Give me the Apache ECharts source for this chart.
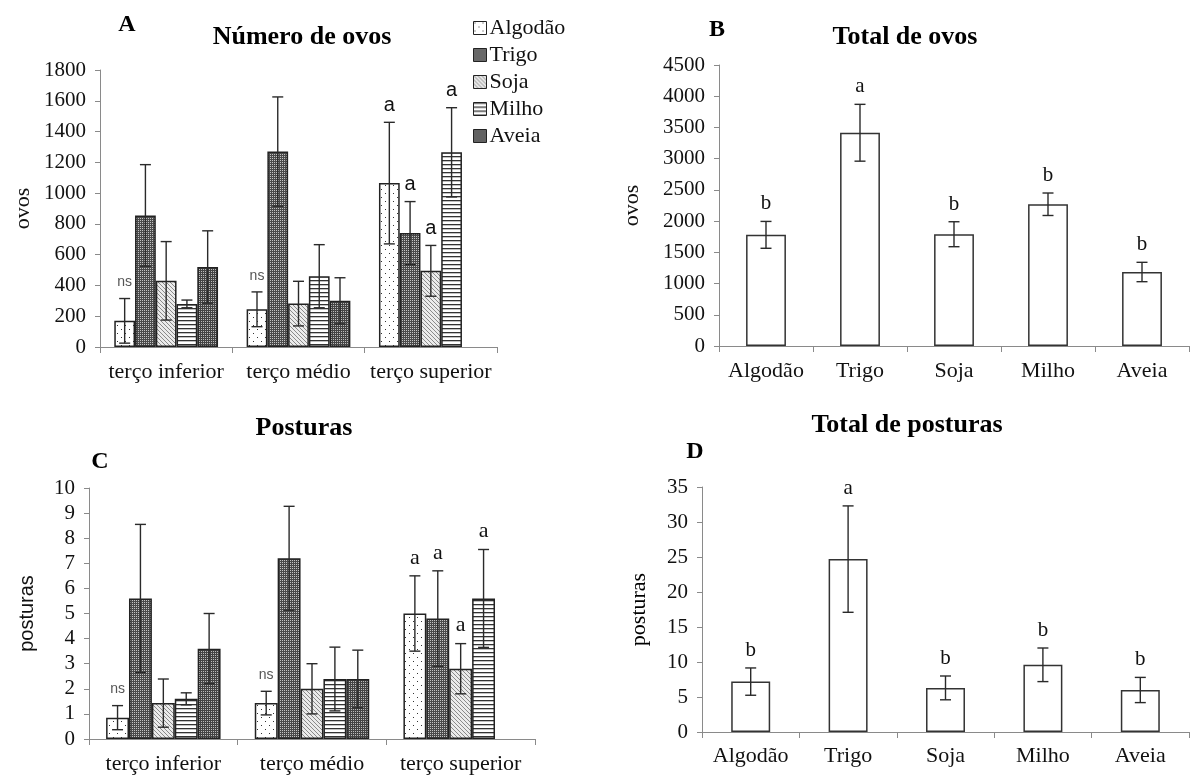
<!DOCTYPE html>
<html><head><meta charset="utf-8">
<script src="https://cdn.jsdelivr.net/npm/echarts@6/dist/echarts.min.js"></script>
<style>html,body{margin:0;padding:0;background:#fff}#c{width:1193px;height:780px}</style>
</head><body><div id="c"></div>
<script>
// ---------- DATA ----------
const cultures = ['Algodão', 'Trigo', 'Soja', 'Milho', 'Aveia'];
const thirds = ['terço inferior', 'terço médio', 'terço superior'];

// Panel A: Número de ovos (per third of plant)
const ovosAlgodao = [170, 245, 1065];
const ovosTrigo   = [855, 1270, 740];
const ovosSoja    = [430, 282, 495];
const ovosMilho   = [280, 460, 1265];
const ovosAveia   = [520, 300, null];
const ovosErrAlgodao = [145, 113, 395];
const ovosErrTrigo   = [330, 355, 205];
const ovosErrSoja    = [255, 145, 165];
const ovosErrMilho   = [25, 205, 290];
const ovosErrAveia   = [235, 150, null];
const ovosLetAlgodao = ['ns', 'ns', 'a'];
const ovosLetTrigo   = ['', '', 'a'];
const ovosLetSoja    = ['', '', 'a'];
const ovosLetMilho   = ['', '', 'a'];
const ovosLetAveia   = ['', '', ''];

// Panel B: Total de ovos
const totalOvos = [1780, 3415, 1790, 2270, 1185];
const totalOvosErr = [215, 455, 200, 180, 155];
const totalOvosLet = ['b', 'a', 'b', 'b', 'b'];

// Panel C: Posturas (per third of plant)
const postAlgodao = [0.85, 1.43, 5.0];
const postTrigo   = [5.6, 7.2, 4.8];
const postSoja    = [1.43, 2.0, 2.8];
const postMilho   = [1.6, 2.39, 5.6];
const postAveia   = [3.6, 2.39, null];
const postErrAlgodao = [0.48, 0.47, 1.5];
const postErrTrigo   = [2.95, 2.07, 1.9];
const postErrSoja    = [0.96, 1.0, 1.0];
const postErrMilho   = [0.24, 1.27, 1.95];
const postErrAveia   = [1.4, 1.15, null];
const postLetAlgodao = ['ns', 'ns', 'a'];
const postLetTrigo   = ['', '', 'a'];
const postLetSoja    = ['', '', 'a'];
const postLetMilho   = ['', '', 'a'];
const postLetAveia   = ['', '', ''];

// Panel D: Total de posturas
const totalPost = [7.2, 24.7, 6.3, 9.6, 6.0];
const totalPostErr = [1.95, 7.6, 1.7, 2.4, 1.8];
const totalPostLet = ['b', 'a', 'b', 'b', 'b'];

// ---------- STYLE ----------
const SERIF = "'Liberation Serif', 'Times New Roman', serif";
const SANS = "'Liberation Sans', Arial, sans-serif";

function pat(w, h, draw) {
  const c = document.createElement('canvas');
  c.width = w; c.height = h;
  const g = c.getContext('2d');
  draw(g);
  return { image: c, repeat: 'repeat' };
}
const fills = [
  pat(8, 8, g => { g.fillStyle = '#fff'; g.fillRect(0, 0, 8, 8); g.fillStyle = '#333'; g.fillRect(1, 1, 1, 1); g.fillRect(5, 5, 1, 1); }),
  pat(4, 4, g => { g.fillStyle = '#4a4a4a'; g.fillRect(0, 0, 4, 4); g.fillStyle = '#c4c4c4'; g.fillRect(0, 0, 1, 1); g.fillRect(2, 2, 1, 1); g.fillRect(2, 0, 1, 1); g.fillRect(0, 2, 1, 1); }),
  pat(4, 4, g => { g.fillStyle = '#ebebeb'; g.fillRect(0, 0, 4, 4); g.fillStyle = '#8a8a8a'; for (let i = 0; i < 4; i++) g.fillRect(i, i, 1, 1); }),
  pat(4, 4, g => { g.fillStyle = '#fff'; g.fillRect(0, 0, 4, 4); g.fillStyle = '#333'; g.fillRect(0, 0, 4, 1.3); }),
  pat(4, 4, g => { g.fillStyle = '#444'; g.fillRect(0, 0, 4, 4); g.fillStyle = '#bcbcbc'; g.fillRect(1, 1, 1, 1); g.fillRect(3, 3, 1, 1); g.fillRect(3, 1, 1, 1); g.fillRect(1, 3, 1, 1); })
];

const axisGrey = '#8a8a8a';
function catAxis(gi, data, fs, margin) {
  return {
    type: 'category', gridIndex: gi, data: data,
    axisLine: { show: true, lineStyle: { color: axisGrey, width: 1 } },
    axisTick: { show: true, length: 6, lineStyle: { color: axisGrey } },
    axisLabel: { fontFamily: SERIF, fontSize: fs, color: '#111', margin: margin, interval: 0 }
  };
}
function valAxis(gi, max, interval, name, nameFont, nameGap) {
  return {
    type: 'value', gridIndex: gi, min: 0, max: max, interval: interval,
    splitLine: { show: false },
    axisLine: { show: true, lineStyle: { color: axisGrey, width: 1 } },
    axisTick: { show: true, length: 5, lineStyle: { color: axisGrey } },
    axisLabel: { fontFamily: SERIF, fontSize: 21, color: '#111', margin: 14, formatter: v => String(v) },
    name: name, nameLocation: 'middle', nameRotate: 90, nameGap: nameGap,
    nameTextStyle: nameFont
  };
}

function errSeries(gi, pts, labels, nSeries, gapFrac, labelFont) {
  return {
    type: 'custom', xAxisIndex: gi, yAxisIndex: gi, z: 10, silent: true,
    data: pts,
    renderItem: function (params, api) {
      const cat = api.value(0), s = api.value(1), m = api.value(2), e = api.value(3);
      const catW = api.size([1, 0])[0];
      const bw = catW * (1 - gapFrac) / nSeries;
      const off = (s - (nSeries - 1) / 2) * bw;
      const pTop = api.coord([cat, m + e]);
      const pBot = api.coord([cat, Math.max(m - e, 0)]);
      const x = pTop[0] + off;
      const cap = 5.5;
      const ls = { stroke: '#2a2a2a', lineWidth: 1.4 };
      const children = [
        { type: 'line', shape: { x1: x, y1: pTop[1], x2: x, y2: pBot[1] }, style: ls },
        { type: 'line', shape: { x1: x - cap, y1: pTop[1], x2: x + cap, y2: pTop[1] }, style: ls },
        { type: 'line', shape: { x1: x - cap, y1: pBot[1], x2: x + cap, y2: pBot[1] }, style: ls }
      ];
      const lab = labels[params.dataIndex];
      if (lab) {
        const isNs = lab === 'ns';
        children.push({
          type: 'text',
          style: {
            text: lab, x: x, y: pTop[1] - (isNs ? 9 : 7),
            align: 'center', verticalAlign: 'bottom',
            font: isNs ? ('14px ' + SANS) : labelFont,
            fill: isNs ? '#555' : '#111'
          }
        });
      }
      return { type: 'group', children: children };
    }
  };
}

// Build grouped data
const ovosMeans = [ovosAlgodao, ovosTrigo, ovosSoja, ovosMilho, ovosAveia];
const ovosErrs = [ovosErrAlgodao, ovosErrTrigo, ovosErrSoja, ovosErrMilho, ovosErrAveia];
const ovosLets = [ovosLetAlgodao, ovosLetTrigo, ovosLetSoja, ovosLetMilho, ovosLetAveia];
const postMeans = [postAlgodao, postTrigo, postSoja, postMilho, postAveia];
const postErrs = [postErrAlgodao, postErrTrigo, postErrSoja, postErrMilho, postErrAveia];
const postLets = [postLetAlgodao, postLetTrigo, postLetSoja, postLetMilho, postLetAveia];

function groupedErr(means, errs, lets) {
  const pts = [], labs = [];
  for (let s = 0; s < means.length; s++) {
    for (let c = 0; c < means[s].length; c++) {
      if (means[s][c] == null) continue;
      pts.push([c, s, means[s][c], errs[s][c]]);
      labs.push(lets[s][c]);
    }
  }
  return { pts, labs };
}
function singleErr(means, errs, lets) {
  return { pts: means.map((m, i) => [i, 0, m, errs[i]]), labs: lets.slice() };
}

const gapA = 0.216, gapB = 0.576, gapC = 0.23, gapD = 0.60;
const barBorder = { borderColor: '#222', borderWidth: 1.5 };

const series = [];
cultures.forEach((name, s) => {
  series.push({ type: 'bar', name: name, xAxisIndex: 0, yAxisIndex: 0, data: ovosMeans[s],
    barGap: '0%', barCategoryGap: (gapA * 100) + '%',
    itemStyle: Object.assign({ color: fills[s] }, barBorder), silent: true });
});
cultures.forEach((name, s) => {
  series.push({ type: 'bar', name: name, xAxisIndex: 2, yAxisIndex: 2, data: postMeans[s],
    barGap: '0%', barCategoryGap: (gapC * 100) + '%',
    itemStyle: Object.assign({ color: fills[s] }, barBorder), silent: true });
});
series.push({ type: 'bar', name: 'Total de ovos', xAxisIndex: 1, yAxisIndex: 1, data: totalOvos,
  barCategoryGap: (gapB * 100) + '%', itemStyle: { color: '#fff', borderColor: '#333', borderWidth: 1.5 }, silent: true });
series.push({ type: 'bar', name: 'Total de posturas', xAxisIndex: 3, yAxisIndex: 3, data: totalPost,
  barCategoryGap: (gapD * 100) + '%', itemStyle: { color: '#fff', borderColor: '#333', borderWidth: 1.5 }, silent: true });

const eA = groupedErr(ovosMeans, ovosErrs, ovosLets);
const eC = groupedErr(postMeans, postErrs, postLets);
const eB = singleErr(totalOvos, totalOvosErr, totalOvosLet);
const eD = singleErr(totalPost, totalPostErr, totalPostLet);
series.push(errSeries(0, eA.pts, eA.labs, 5, gapA, '20px ' + SANS));
series.push(errSeries(1, eB.pts, eB.labs, 1, gapB, '21px ' + SERIF));
series.push(errSeries(2, eC.pts, eC.labs, 5, gapC, '22px ' + SERIF));
series.push(errSeries(3, eD.pts, eD.labs, 1, gapD, '21px ' + SERIF));

function gText(text, x, y, size, bold) {
  return { type: 'text', x: x, y: y, silent: true,
    style: { text: text, align: 'center', verticalAlign: 'middle',
      font: (bold ? 'bold ' : '') + size + 'px ' + SERIF, fill: '#000' } };
}

const option = {
  animation: false,
  backgroundColor: '#fff',
  grid: [
    { left: 100, top: 70, width: 397, height: 277 },
    { left: 719, top: 65, width: 470, height: 281 },
    { left: 89, top: 488, width: 446, height: 251 },
    { left: 702, top: 487, width: 487, height: 245 }
  ],
  xAxis: [
    catAxis(0, thirds, 22, 14),
    catAxis(1, cultures, 22, 14),
    catAxis(2, thirds, 22, 14),
    catAxis(3, cultures, 22, 13)
  ],
  yAxis: [
    valAxis(0, 1800, 200, 'ovos', { fontFamily: SERIF, fontSize: 22, color: '#111' }, 66),
    valAxis(1, 4500, 500, 'ovos', { fontFamily: SERIF, fontSize: 22, color: '#111' }, 76),
    valAxis(2, 10, 1, 'posturas', { fontFamily: SANS, fontSize: 20, color: '#111' }, 52),
    valAxis(3, 35, 5, 'posturas', { fontFamily: SERIF, fontSize: 22, color: '#000' }, 52)
  ],
  legend: {
    data: cultures, orient: 'vertical', left: 473, top: 17, padding: 0,
    itemWidth: 13, itemHeight: 13, itemGap: 5, icon: 'rect', selectedMode: false,
    itemStyle: { borderColor: '#222', borderWidth: 1 },
    textStyle: { fontFamily: SERIF, fontSize: 22, lineHeight: 22, color: '#111', padding: [0, 0, 0, -2] }
  },
  graphic: [
    gText('A', 127, 25, 24, true),
    gText('Número de ovos', 302, 37, 26, true),
    gText('B', 717, 30, 24, true),
    gText('Total de ovos', 905, 37, 26, true),
    gText('Posturas', 304, 428, 26, true),
    gText('C', 100, 462, 24, true),
    gText('Total de posturas', 907, 425, 26, true),
    gText('D', 695, 452, 24, true)
  ],
  series: series
};
echarts.init(document.getElementById('c'), null, { renderer: 'canvas' }).setOption(option);
</script></body></html>
